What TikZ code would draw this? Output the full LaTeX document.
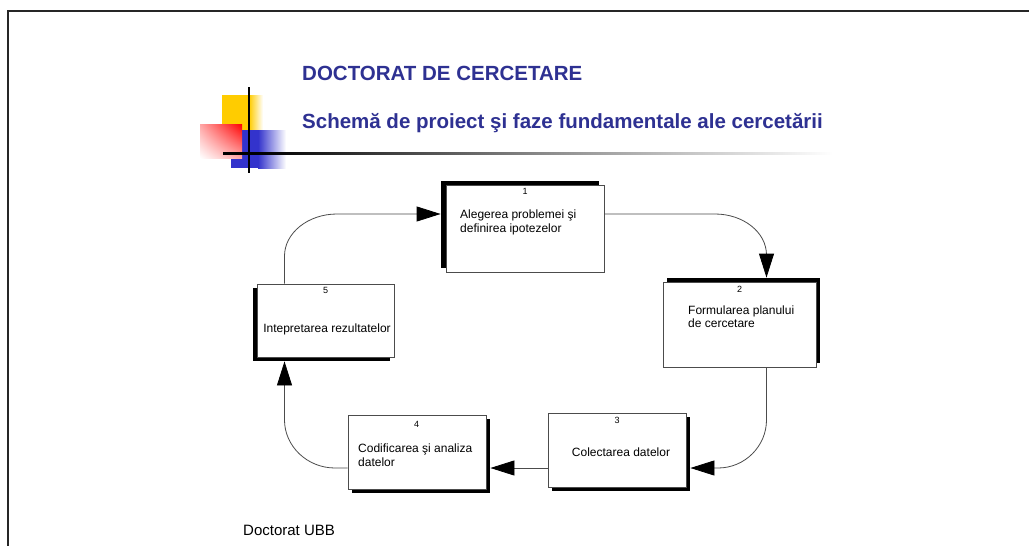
\documentclass[tikz,border=0pt]{standalone}
\usepackage{fontspec}
\setmainfont{Liberation Sans}
\usetikzlibrary{shadows,shadings,arrows.meta}
\definecolor{titleblue}{HTML}{2E3192}
\definecolor{goldy}{HTML}{FFCC00}
\definecolor{blueq}{HTML}{3333CC}
\begin{document}
\begin{tikzpicture}[x=1pt,y=-1pt,
  box/.style={draw=black!70, line width=0.8pt, fill=white, inner sep=0pt},
  shUL/.style={drop shadow={shadow xshift=-5pt, shadow yshift=4pt, fill=black, opacity=1}},
  shUR/.style={drop shadow={shadow xshift=4pt, shadow yshift=4pt, fill=black, opacity=1}},
  shDL/.style={drop shadow={shadow xshift=-4pt, shadow yshift=-4pt, fill=black, opacity=1}},
  shDR/.style={drop shadow={shadow xshift=4pt, shadow yshift=-4pt, fill=black, opacity=1}},
  num/.style={font=\fontsize{9}{10}\selectfont, anchor=base, inner sep=0pt},
  btext/.style={font=\fontsize{12}{14}\selectfont, inner sep=0pt, anchor=base west},
  ctext/.style={font=\fontsize{12}{14}\selectfont, inner sep=0pt, anchor=base},
  conn/.style={draw=black!70, line width=0.8pt},
  tip/.style={-{Triangle[length=24pt,width=15pt,color=black]}},
  ttl/.style={anchor=base west, inner sep=0pt, text=titleblue, font=\fontsize{20.5}{24}\selectfont\bfseries}
]
\useasboundingbox (0,0) rectangle (1029,546);
\fill[white] (0,0) rectangle (1029,546);
\draw[black!85, line width=2pt] (8,546) -- (8,11) -- (1029,11);

% header decoration
\fill[goldy] (222,95) rectangle (249,130);
\shade[left color=goldy, right color=white] (249,95) rectangle (263,130);
\fill[blueq] (231,130) rectangle (258,168);
\shade[left color=blueq, right color=white] (258,130) rectangle (286,168);
\shade[upper left=red!35, upper right=red, lower left=white, lower right=red!35] (200,124) rectangle (242,158);
\fill[black] (223,152) rectangle (262,154.5);
\shade[left color=black, right color=white, middle color=black!45] (262,152) rectangle (833,154.5);
\draw[black, line width=2pt] (248.5,87) -- (248.5,173);

\node[ttl] (t1) at (302,80) {DOCTORAT DE CERCETARE};
\node[ttl] (t2) at (302,128) {Schemă de proiect şi faze fundamentale ale cercetării};

% boxes
\node[box, shUL, minimum width=158pt, minimum height=87pt] (b1) at (525,228.5) {};
\node[box, shUR, minimum width=153pt, minimum height=85pt] (b2) at (739.5,324.5) {};
\node[box, shDR, minimum width=138pt, minimum height=74pt] (b3) at (617,450) {};
\node[box, shDR, minimum width=138pt, minimum height=74pt] (b4) at (417,452) {};
\node[box, shDL, minimum width=137pt, minimum height=73pt] (b5) at (325.5,320.5) {};

\node[num] (n1) at (525,194) {1};
\node[btext] (l1a) at (460,218) {Alegerea problemei şi};
\node[btext] (l1b) at (460,232) {definirea ipotezelor};

\node[num] (n2) at (739.5,292) {2};
\node[btext] (l2a) at (688,314) {Formularea planului};
\node[btext] (l2b) at (688,327.5) {de cercetare};

\node[num] (n3) at (617,423.5) {3};
\node[ctext] (l3) at (621,456) {Colectarea datelor};

\node[num] (n4) at (416.7,427.5) {4};
\node[btext] (l4a) at (358,452) {Codificarea şi analiza};
\node[btext] (l4b) at (358,466.5) {datelor};

\node[num] (n5) at (325.5,293.5) {5};
\node[ctext] (l5) at (327,332) {Intepretarea rezultatelor};

\node[anchor=base west, inner sep=0pt, font=\fontsize{15}{18}\selectfont] (foot) at (243,535) {Doctorat UBB};

% connectors
\draw[conn, tip] ([yshift=14.5pt]b1.east) -- (715,214) .. controls (743,214) and (766.5,232) .. (766.5,255) -- ([xshift=27pt,yshift=4pt]b2.north);
\draw[conn, tip] ([xshift=27pt]b2.south) -- (766.5,420) .. controls (766.5,446) and (745,468) .. (718,468) -- ([xshift=4pt,yshift=-18pt]b3.east);
\draw[conn, tip] ([yshift=-18pt]b3.west) -- ([xshift=4pt,yshift=-16pt]b4.east);
\draw[conn, tip] ([yshift=-16pt]b4.west) -- (335,468) .. controls (307,468) and (284.5,446) .. (284.5,420) -- ([xshift=-41pt,yshift=-4pt]b5.south);
\draw[conn, tip] ([xshift=-41pt]b5.north) -- (284.5,256) .. controls (284.5,233) and (308,214) .. (337,214) -- ([xshift=-5pt,yshift=14.5pt]b1.west);
\end{tikzpicture}
\end{document}
